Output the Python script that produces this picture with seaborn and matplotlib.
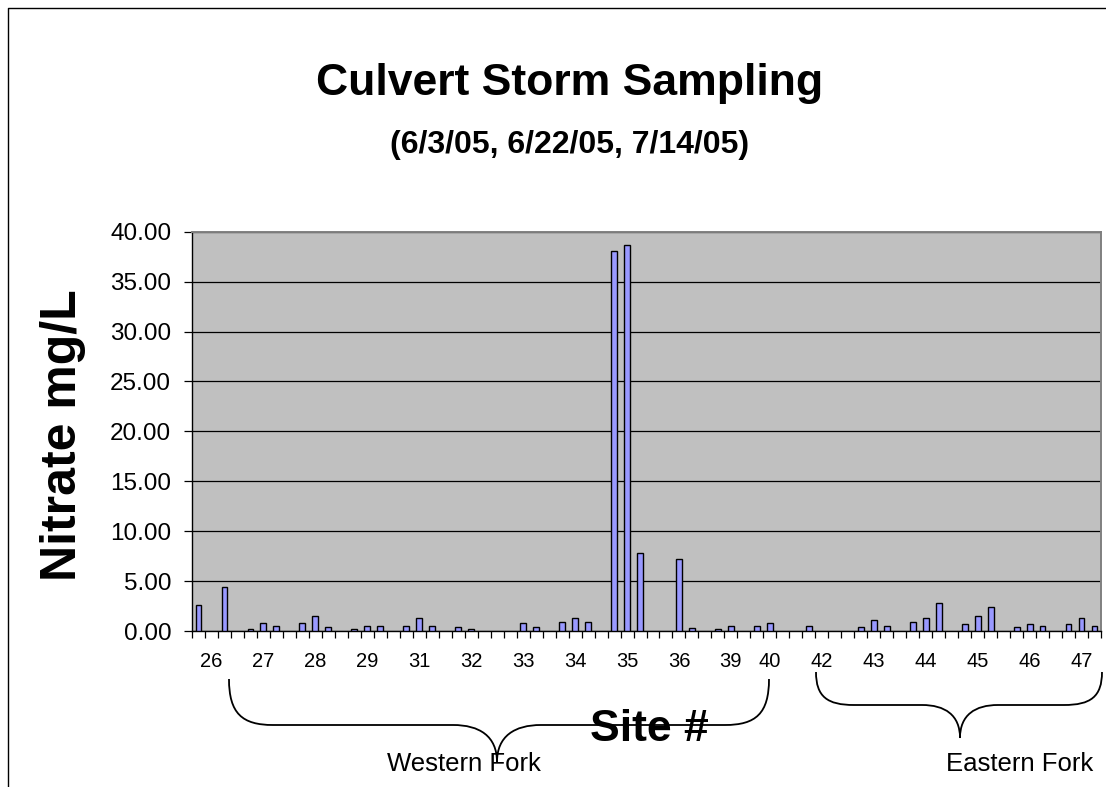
import numpy as np
import pandas as pd
import matplotlib
matplotlib.use("Agg")
import matplotlib.pyplot as plt
import seaborn as sns
from matplotlib.path import Path
from matplotlib.patches import PathPatch
from matplotlib.lines import Line2D
from matplotlib.ticker import FixedLocator, FuncFormatter

# ---------------- data ----------------
sites = ["26", "27", "28", "29", "31", "32", "33", "34", "35",
         "36", "39", "40", "42", "43", "44", "45", "46", "47"]
# nitrate (mg/L) for the three storm dates; NaN = no sample
storm_6_3_05 = [2.58, 0.20, 0.78, 0.20, 0.54, 0.37, np.nan, 0.92, 38.1,
                np.nan, 0.20, 0.54, 0.54, 0.37, 0.92, 0.75, 0.37, 0.75]
storm_6_22_05 = [np.nan, 0.78, 1.49, 0.54, 1.29, 0.20, 0.78, 1.29, 38.7,
                 7.2, 0.54, 0.78, np.nan, 1.12, 1.29, 1.49, 0.75, 1.29]
storm_7_14_05 = [4.45, 0.54, 0.37, 0.54, 0.54, np.nan, 0.37, 0.92, 7.8,
                 0.35, np.nan, np.nan, np.nan, 0.54, 2.76, 2.41, 0.54, 0.54]
no_spacer_after = ["39"]          # worksheet had no blank row after this site
y_ticks = [0, 5, 10, 15, 20, 25, 30, 35, 40]

# ---------------- build category slots ----------------
order, rows, label_slots = [], [], []
series = [storm_6_3_05, storm_6_22_05, storm_7_14_05]
for i, s in enumerate(sites):
    for k in range(3):
        name = f"{s}_{k}"
        order.append(name)
        v = series[k][i]
        if not np.isnan(v):
            rows.append({"slot": name, "nitrate": v})
    label_slots.append(len(order) - 2)
    if i < len(sites) - 1 and s not in no_spacer_after:
        order.append(f"gap_{i}")
df = pd.DataFrame(rows)

# ---------------- figure ----------------
W, H = 1106, 787
plt.rcParams["font.family"] = ["Liberation Sans", "DejaVu Sans"]
fig = plt.figure(figsize=(W / 100, H / 100), dpi=100)
fig.patch.set_facecolor("white")


def fx(x):
    return x / W


def fy(y):
    return 1 - y / H


ax = fig.add_axes([fx(192), fy(631), (1101 - 192) / W, (631 - 231.7) / H])
ax.set_facecolor("#C0C0C0")

sns.barplot(data=df, x="slot", y="nitrate", order=order, color="#9999FF",
            edgecolor="black", linewidth=1.0, width=0.45, saturation=1,
            errorbar=None, ax=ax, zorder=3)

ax.set_xlim(-0.5, len(order) - 0.5)
ax.set_ylim(0, 40)
ax.set_yticks(y_ticks)
ax.yaxis.set_major_formatter(FuncFormatter(lambda v, p: f"{v:.2f}"))
ax.yaxis.grid(True, color="black", linewidth=0.9, zorder=1)
ax.set_axisbelow(True)
ax.tick_params(axis="y", which="major", direction="out", length=6,
               width=0.9, color="black", labelsize=17.5, pad=9)

ax.xaxis.set_major_locator(FixedLocator(label_slots))
ax.set_xticklabels(sites)
ax.xaxis.set_minor_locator(FixedLocator(np.arange(-0.5, len(order), 1.0)))
ax.tick_params(axis="x", which="major", length=0, labelsize=14.5, pad=15)
ax.tick_params(axis="x", which="minor", direction="out", length=5,
               width=0.9, color="black")
ax.set_xlabel("")
ax.set_ylabel("")

for side in ["left", "bottom"]:
    ax.spines[side].set_color("black")
    ax.spines[side].set_linewidth(1.0)
for side in ["top", "right"]:
    ax.spines[side].set_color("#808080")
    ax.spines[side].set_linewidth(1.4)

# ---------------- texts ----------------
fig.text(fx(570), fy(95), "Culvert Storm Sampling", ha="center",
         va="baseline", fontsize=32, fontweight="bold")
fig.text(fx(570), fy(153), "(6/3/05, 6/22/05, 7/14/05)", ha="center",
         va="baseline", fontsize=23, fontweight="bold")
fig.text(fx(63), fy(435), "Nitrate mg/L", ha="center", va="center",
         rotation=90, fontsize=36, fontweight="bold")
fig.text(fx(649), fy(741), "Site #", ha="center", va="baseline",
         fontsize=32, fontweight="bold", zorder=5)
fig.text(fx(464), fy(771), "Western Fork", ha="center", va="baseline",
         fontsize=18.5)
fig.text(fx(1020), fy(771), "Eastern Fork", ha="center", va="baseline",
         fontsize=18.5)

# ---------------- braces ----------------


def brace(x0, x1, ytop, ymid, ytip, xtip, r):
    pts = [(x0, ytop),
           (x0, ytop + 0.75 * (ymid - ytop)), (x0 + 0.3 * r, ymid), (x0 + r, ymid),
           (xtip - r, ymid),
           (xtip - 0.4 * r, ymid), (xtip, ymid + 0.3 * (ytip - ymid)), (xtip, ytip),
           (xtip, ymid + 0.3 * (ytip - ymid)), (xtip + 0.4 * r, ymid), (xtip + r, ymid),
           (x1 - r, ymid),
           (x1 - 0.3 * r, ymid), (x1, ytop + 0.75 * (ymid - ytop)), (x1, ytop)]
    codes = [Path.MOVETO,
             Path.CURVE4, Path.CURVE4, Path.CURVE4,
             Path.LINETO,
             Path.CURVE4, Path.CURVE4, Path.CURVE4,
             Path.CURVE4, Path.CURVE4, Path.CURVE4,
             Path.LINETO,
             Path.CURVE4, Path.CURVE4, Path.CURVE4]
    verts = [(fx(x), fy(y)) for x, y in pts]
    fig.add_artist(PathPatch(Path(verts, codes), transform=fig.transFigure,
                             facecolor="none", edgecolor="black", lw=1.3))


brace(229, 769, 679, 725, 762, 497, 44)
brace(816, 1102, 672, 705, 738, 960, 38)

# outer chart border (cropped)
fig.add_artist(Line2D([fx(8), fx(8), fx(1106)], [fy(787), fy(8), fy(8)],
                      transform=fig.transFigure, color="black", lw=1.0))

fig.savefig("out.png", dpi=100)
